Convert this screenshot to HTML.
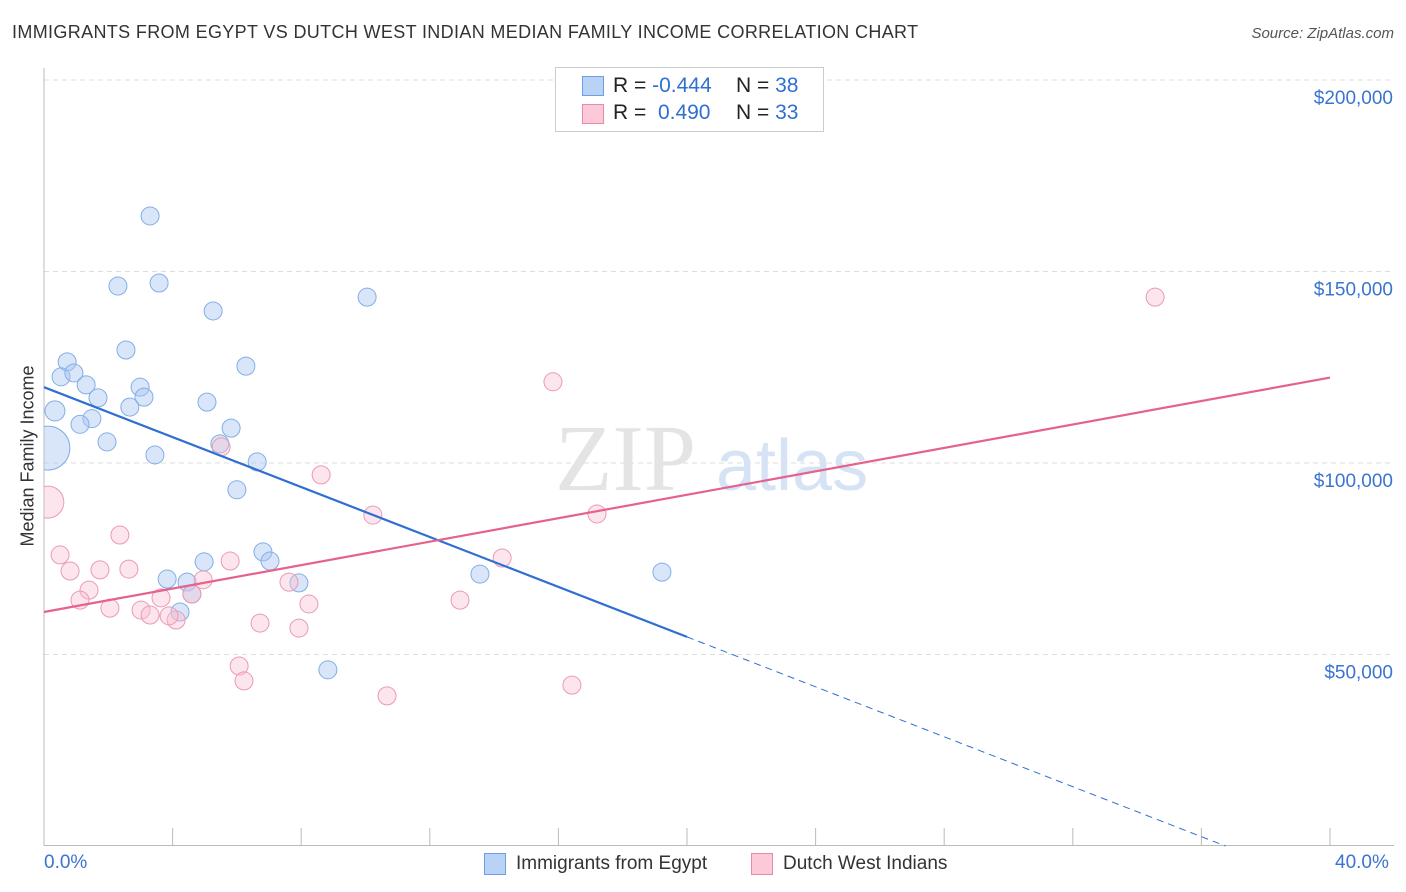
<!DOCTYPE html>
<html><head><meta charset="utf-8"><style>
body{margin:0;background:#fff;font-family:"Liberation Sans",sans-serif;}
#wrap{position:relative;width:1406px;height:892px;overflow:hidden}
.t{position:absolute;white-space:nowrap}
</style></head><body>
<div id="wrap">
<div class="t" style="left:12px;top:22px;font-size:18px;color:#333;letter-spacing:0.35px">IMMIGRANTS FROM EGYPT VS DUTCH WEST INDIAN MEDIAN FAMILY INCOME CORRELATION CHART</div>
<div class="t" style="right:12px;top:25px;font-size:15px;color:#555;font-style:italic">Source: ZipAtlas.com</div>
<div class="t" style="left:28px;top:456px;font-size:18px;color:#333;transform:translate(-50%,-50%) rotate(-90deg)">Median Family Income</div>
<svg id="svg" width="1406" height="892" style="position:absolute;left:0;top:0"></svg>
<div style="position:absolute;left:555px;top:67px;width:267px;height:63px;border:1px solid #ccc;background:#fff;font-size:21px">
 <div style="position:absolute;left:26px;top:8px;width:20px;height:18px;background:#b8d3f5;border:1px solid #6d9fe0"></div>
 <div class="t" style="left:57px;top:6px;color:#222">R = <span style="color:#2f6fd1">-0.444</span></div>
 <div class="t" style="left:180px;top:6px;color:#222">N = <span style="color:#2f6fd1">38</span></div>
 <div style="position:absolute;left:26px;top:36px;width:20px;height:18px;background:#fbc9d7;border:1px solid #e88aa6"></div>
 <div class="t" style="left:57px;top:33px;color:#222">R = &nbsp;<span style="color:#2f6fd1">0.490</span></div>
 <div class="t" style="left:180px;top:33px;color:#222">N = <span style="color:#2f6fd1">33</span></div>
</div>
<div class="t" style="left:44px;top:852px;font-size:19px;color:#3a74d0">0.0%</div>
<div class="t" style="left:1335px;top:852px;font-size:19px;color:#3a74d0">40.0%</div>
<div style="position:absolute;left:484px;top:853px;width:20px;height:20px;background:#b8d3f5;border:1px solid #6d9fe0"></div>
<div class="t" style="left:516px;top:853px;font-size:19px;color:#333">Immigrants from Egypt</div>
<div style="position:absolute;left:751px;top:853px;width:20px;height:20px;background:#fbc9d7;border:1px solid #e88aa6"></div>
<div class="t" style="left:783px;top:853px;font-size:19px;color:#333">Dutch West Indians</div>
</div>
<script>
const yTicks=[50000,100000,150000,200000];
const yTickLabels=["$50,000","$100,000","$150,000","$200,000"];
const blueX=[3.30,2.30,3.58,5.26,10.05,2.55,0.72,6.28,0.53,0.93,1.31,2.99,3.11,1.68,2.67,0.34,5.07,1.49,1.12,5.82,1.96,5.47,0.12,3.45,6.63,6.00,6.81,7.03,4.98,3.83,4.45,7.93,4.60,4.23,13.56,19.22,8.83];
const blueY=[164.5,146.2,147.0,139.7,143.3,129.5,126.4,125.3,122.5,123.5,120.4,119.8,117.2,117.0,114.6,113.6,115.9,111.6,110.1,109.1,105.5,105.0,103.9,102.1,100.3,93.0,76.8,74.4,74.2,69.7,68.9,68.7,65.8,61.1,71.0,71.5,46.0];
const blueR=[9,9,9,9,9,9,9,9,9,9,9,9,9,9,9,10,9,9,9,9,9,9,22,9,9,9,9,9,9,9,9,9,9,9,9,9,9];
const pinkX=[0.12,0.50,0.81,2.36,1.74,2.64,1.40,1.12,2.05,3.02,3.30,3.64,4.11,3.89,4.95,4.60,5.79,5.51,8.62,7.62,8.24,7.93,6.72,6.07,6.22,10.67,10.23,12.94,14.25,15.83,17.20,16.42,34.56];
const pinkY=[89.8,76.0,71.8,81.2,72.1,72.3,66.8,64.2,62.1,61.6,60.3,64.8,59.0,60.1,69.5,65.8,74.4,104.2,96.9,68.9,63.2,56.9,58.2,47.0,43.1,39.2,86.4,64.2,75.2,121.2,86.7,42.0,143.3];
const pinkR=[16,9,9,9,9,9,9,9,9,9,9,9,9,9,9,9,9,9,9,9,9,9,9,9,9,9,9,9,9,9,9,9,9];
const blueLine=[119.8,-3.26];
const pinkLine=[61.1,1.53];
const X=v=>44+v/40*1286, Y=v=>846-v/50000*191.5;
const svg=document.getElementById('svg');const NS='http://www.w3.org/2000/svg';
function mk(t,a,p){const e=document.createElementNS(NS,t);for(const k in a)e.setAttribute(k,a[k]);(p||svg).appendChild(e);return e;}
const defs=mk('defs',{});
const cp=mk('clipPath',{id:'clip'},defs);mk('rect',{x:44,y:60,width:1360,height:786},cp);
yTicks.forEach((t,i)=>{
 let g=mk('line',{x1:44,x2:1394,y1:Y(t),y2:Y(t),stroke:'#ddd','stroke-dasharray':'5,4'});
 
 
 let tx=mk('text',{x:1393,y:Y(t)+24,'text-anchor':'end','font-size':19,fill:'#3a74d0','font-family':'Liberation Sans'});tx.textContent=yTickLabels[i];
 
 
});
let ax=mk('line',{x1:44,x2:44,y1:68,y2:846,stroke:'#bbb'});


let bx=mk('line',{x1:44,x2:1394,y1:845.5,y2:845.5,stroke:'#bbb'});


for(let i=1;i<=10;i++){let t=mk('line',{x1:X(i*4),x2:X(i*4),y1:828,y2:846,stroke:'#bbb'});
 
 }
let wm=mk('text',{x:555,y:490,'font-size':94,fill:'#e4e4e4','font-family':'Liberation Serif'});wm.textContent='ZIP';


let wm2=mk('text',{x:716,y:490,'font-size':72,fill:'#d6e3f5','font-family':'Liberation Sans'});wm2.textContent='atlas';


const g=mk('g',{'clip-path':'url(#clip)'});
function dots(xs,ys,rs,fill,stroke,name){xs.forEach((x,i)=>{let c=mk('circle',{cx:X(x),cy:Y(ys[i]*1000),r:rs[i],fill:fill,stroke:stroke,'stroke-width':1},g);
 
 });}
dots(blueX,blueY,blueR,'rgba(170,200,242,0.45)','#82aee6','egypt-point');
dots(pinkX,pinkY,pinkR,'rgba(250,190,210,0.4)','#eb9ab3','dutch-point');
const bAt=x=>(blueLine[0]+blueLine[1]*x)*1000, pAt=x=>(pinkLine[0]+pinkLine[1]*x)*1000;
let xEnd=-blueLine[0]/blueLine[1];
let bl=mk('line',{x1:X(0),y1:Y(bAt(0)),x2:X(20),y2:Y(bAt(20)),stroke:'#2f6fd1','stroke-width':2.2});


let bd=mk('line',{x1:X(20),y1:Y(bAt(20)),x2:X(xEnd),y2:Y(0),stroke:'#2f6fd1','stroke-width':1,'stroke-dasharray':'7,5'});


let pl=mk('line',{x1:X(0),y1:Y(pAt(0)),x2:X(40),y2:Y(pAt(40)),stroke:'#e5628c','stroke-width':2.2});


</script>
</body></html>
